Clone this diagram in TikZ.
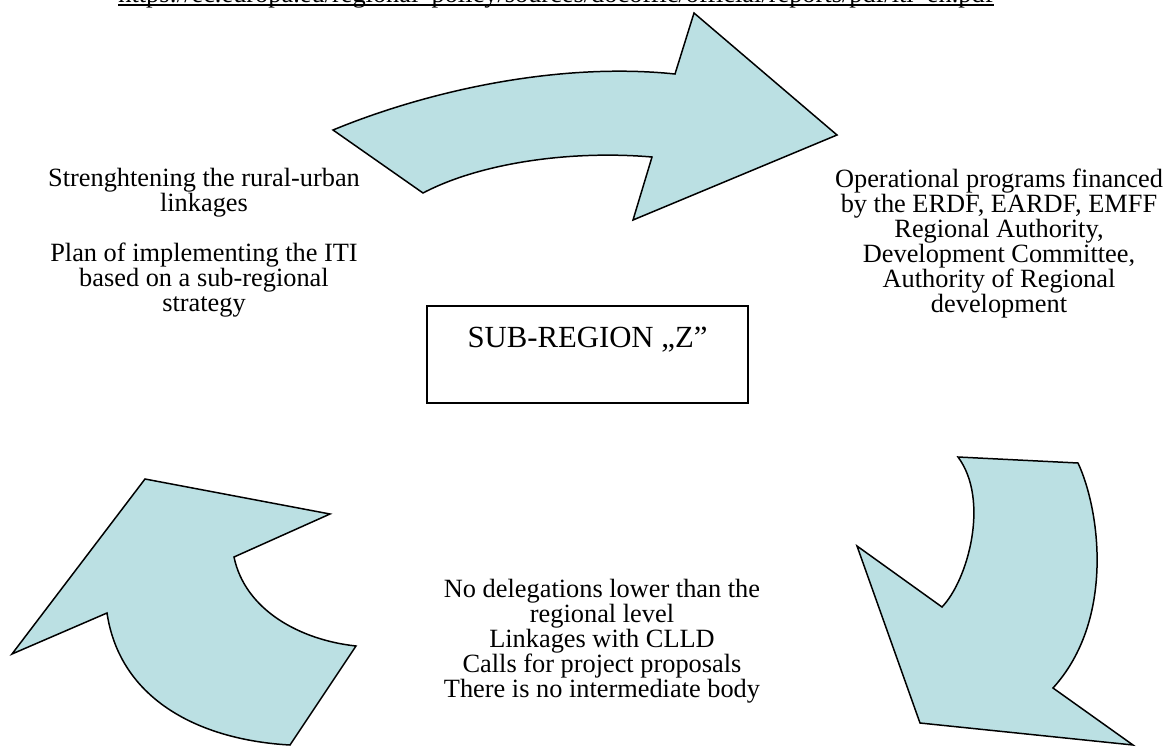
\documentclass[tikz,border=0pt]{standalone}
\usepackage{fontspec}
\setmainfont{Liberation Serif}
\definecolor{arrowfill}{RGB}{187,224,227}

\begin{document}
\begin{tikzpicture}[x=0.02cm,y=-0.02cm,
  bigarrow/.style={fill=arrowfill,draw=black,line width=0.85pt,line join=miter},
  txtblock/.style={align=center,inner sep=0pt,anchor=north,font=\fontsize{15}{14.23}\selectfont},
  subbox/.style={draw,line width=1pt,minimum width=6.42cm,minimum height=1.94cm,inner sep=0pt}]
\useasboundingbox (0,0) rectangle (1167,747);
\node[anchor=base west,inner sep=0pt,font=\fontsize{15}{14.23}\selectfont] (url) at (118,2.5) {https://ec.europa.eu/regional\_policy/sources/docoffic/official/reports/pdf/iti\_en.pdf};
\draw[line width=0.85pt] ([yshift=-0.05cm]url.base west) -- ([yshift=-0.05cm]url.base east);
\draw[bigarrow] (333,130) .. controls (430,90) and (560,62) .. (675,74) -- (694,13) -- (837,135) -- (633,220) -- (652,157) .. controls (570,150) and (480,163) .. (423,193) -- cycle;
\draw[bigarrow] (958,457) -- (1078,463) .. controls (1100,510) and (1115,620) .. (1053,688) -- (1133,745) -- (920,723) -- (857,546) -- (942,607) .. controls (968,580) and (990,500) .. (958,457) -- cycle;
\draw[bigarrow] (145,479) -- (330,514) -- (234,557) .. controls (245,610) and (300,640) .. (356,646) -- (290,745) .. controls (200,740) and (120,700) .. (107,613) -- (12,654) -- cycle;
\node[txtblock] (ruraltxt) at (204,168) {Strenghtening the rural-urban\\linkages\\[14.23pt]Plan of implementing the ITI\\based on a sub-regional\\strategy};
\node[txtblock] (optxt) at (999,169) {Operational programs financed\\by the ERDF, EARDF, EMFF\\Regional Authority,\\Development Committee,\\Authority of Regional\\development};
\node[txtblock] (calltxt) at (602,579) {No delegations lower than the\\regional level\\Linkages with CLLD\\Calls for project proposals\\There is no intermediate body};
\node[subbox] (subbox) at (587.5,354.5) {};
\node[anchor=base,inner sep=0pt,font=\fontsize{17.5}{20}\selectfont] (sublbl) at (587.5,347) {SUB-REGION „Z”};
\end{tikzpicture}
\end{document}
